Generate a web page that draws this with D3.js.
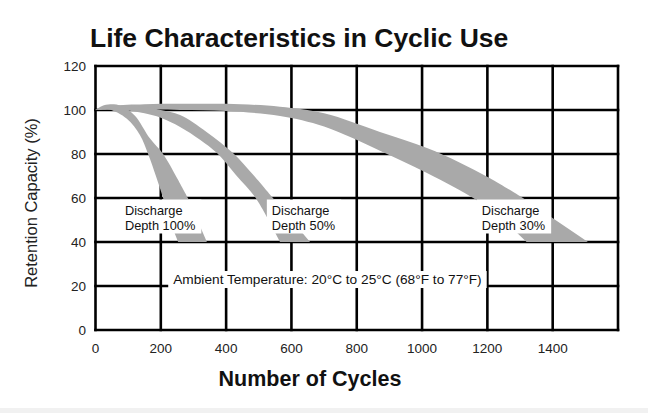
<!DOCTYPE html>
<html>
<head>
<meta charset="utf-8">
<script src="https://cdn.jsdelivr.net/npm/d3@7"></script>
<style>
  html, body { margin: 0; padding: 0; background: #fff; }
  svg { display: block; font-family: "Liberation Sans", Arial, sans-serif; }
</style>
</head>
<body>
<div class="chart"></div>
<script>
// ---- data ----
const xTicks = [0, 200, 400, 600, 800, 1000, 1200, 1400];
const xGrid = [0, 200, 400, 600, 800, 1000, 1200, 1400, 1600];
const yTicks = [0, 20, 40, 60, 80, 100, 120];

const bandNames = ["Depth 100%", "Depth 50%", "Depth 30%"];

// edges of each gray band as [cycles, retention %]
const upper100 = [[0,100],[20,101.8],[45,102.6],[80,101.8],[120,97.5],[167,87],[207,80],[250,69],[283,60]];
const lower100 = [[0,100],[40,100.3],[96,96],[136,88.6],[161,80],[185,70],[207,60],[232,48]];
const tip100 = [341, 40], base100 = [253, 40];

const upper50 = [[0,100],[60,101.8],[130,101.8],[200,100],[259,97.7],[340,90],[421,80.4],[480,71],[540,60.6]];
const lower50 = [[0,100],[80,100],[150,98.5],[200,96.5],[259,92.3],[320,86.5],[372,80.4],[430,70.5],[488,60.6],[530,50]];
const tip50 = [657, 40], base50 = [565, 40];

const upper30 = [[0,100],[50,101.8],[150,102.6],[259,102.8],[400,102.8],[565,101.5],[700,98.5],[871,90],[1015,82.7],[1110,76.5],[1208,69],[1309,60]];
const lower30 = [[0,100],[100,100.3],[259,100],[400,99.5],[565,97.3],[700,92.5],[871,81.5],[1015,71.4],[1168,59],[1250,50]];
const tip30 = [1508, 40], base30 = [1320, 40];

const ambientText = "Ambient Temperature: 20\u00B0C to 25\u00B0C (68\u00B0F to 77\u00B0F)";

// ---- layout ----
const outerW = 648, outerH = 413;
const margin = { left: 95.5, right: 30, top: 66, bottom: 83 };

const x = d3.scaleLinear().domain([0, 1600]).range([margin.left, outerW - margin.right]);
const y = d3.scaleLinear().domain([0, 120]).range([outerH - margin.bottom, margin.top]);

const svg = d3.select('.chart').append('svg')
  .attr('width', outerW)
  .attr('height', outerH);

svg.append('rect').attr('width', outerW).attr('height', outerH).attr('fill', '#fff');
svg.append('rect').attr('x', 0).attr('y', 408).attr('width', outerW).attr('height', 5).attr('fill', '#f1f1f1');

// title
svg.append('text')
  .attr('x', 90).attr('y', 47)
  .style('font-size', '26.5px').style('font-weight', 'bold')
  .attr('fill', '#111')
  .text('Life Characteristics in Cyclic Use');

// grid
const grid = svg.append('g').attr('stroke', '#000').attr('stroke-width', 2.6);
grid.selectAll('line.v').data(xGrid).enter().append('line')
  .attr('x1', d => x(d)).attr('x2', d => x(d))
  .attr('y1', y(120) - 1.3).attr('y2', y(0) + 1.3);
grid.selectAll('line.h').data(yTicks).enter().append('line')
  .attr('x1', x(0) - 1.3).attr('x2', x(1600) + 1.3)
  .attr('y1', d => y(d)).attr('y2', d => y(d));

// bands
const bands = [
  { upper: upper100, lower: lower100, tip: tip100, base: base100 },
  { upper: upper50, lower: lower50, tip: tip50, base: base50 },
  { upper: upper30, lower: lower30, tip: tip30, base: base30 }
];

const edge = d3.line().x(d => x(d[0])).y(d => y(d[1])).curve(d3.curveCatmullRom);

function bandPath(b) {
  const up = edge(b.upper);
  const low = edge(b.lower.slice().reverse()).replace(/^M/, 'L');
  return up + 'L' + x(b.tip[0]) + ',' + y(b.tip[1]) +
    'L' + x(b.base[0]) + ',' + y(b.base[1]) + low + 'Z';
}

svg.append('g')
  .selectAll('path')
  .data(bands.slice().reverse())
  .enter()
  .append('path')
  .attr('d', bandPath)
  .attr('fill', '#a9a9a9');

// band labels, white boxes
const labelAt = [[90, 52.5], [540, 52.5], [1183, 52.5]];
bandNames.forEach((name, i) => {
  const g = svg.append('g');
  const t = g.append('text')
    .attr('x', x(labelAt[i][0])).attr('y', y(labelAt[i][1]))
    .style('font-size', '12.8px').attr('fill', '#111');
  t.append('tspan').attr('x', x(labelAt[i][0])).text('Discharge');
  t.append('tspan').attr('x', x(labelAt[i][0])).attr('dy', 15).text(name);
  const bb = t.node().getBBox();
  g.insert('rect', 'text')
    .attr('x', bb.x - 5).attr('y', bb.y - 3)
    .attr('width', bb.width + 11).attr('height', bb.height + 4)
    .attr('fill', '#fff');
});

// ambient temperature note
const amb = svg.append('g');
const at = amb.append('text')
  .attr('x', x(238)).attr('y', y(20.9))
  .style('font-size', '13.7px').attr('fill', '#111')
  .text(ambientText);
const abb = at.node().getBBox();
amb.insert('rect', 'text')
  .attr('x', abb.x - 5).attr('y', abb.y - 1)
  .attr('width', abb.width + 10).attr('height', abb.height + 2)
  .attr('fill', '#fff');

// tick labels
svg.append('g').selectAll('text').data(yTicks).enter().append('text')
  .attr('x', 86).attr('y', d => y(d)).attr('dy', '0.35em')
  .attr('text-anchor', 'end')
  .style('font-size', '13.5px').attr('fill', '#222')
  .text(d => d);

svg.append('g').selectAll('text').data(xTicks).enter().append('text')
  .attr('x', d => x(d)).attr('y', 353)
  .attr('text-anchor', 'middle')
  .style('font-size', '13.5px').attr('fill', '#222')
  .text(d => d);

// axis titles
svg.append('text')
  .attr('x', 310).attr('y', 386)
  .attr('text-anchor', 'middle')
  .style('font-size', '21.5px').style('font-weight', 'bold')
  .attr('fill', '#111')
  .text('Number of Cycles');

svg.append('text')
  .attr('transform', 'translate(37, 203) rotate(-90)')
  .attr('text-anchor', 'middle')
  .style('font-size', '16.5px')
  .attr('fill', '#222')
  .text('Retention Capacity (%)');
</script>
</body>
</html>
